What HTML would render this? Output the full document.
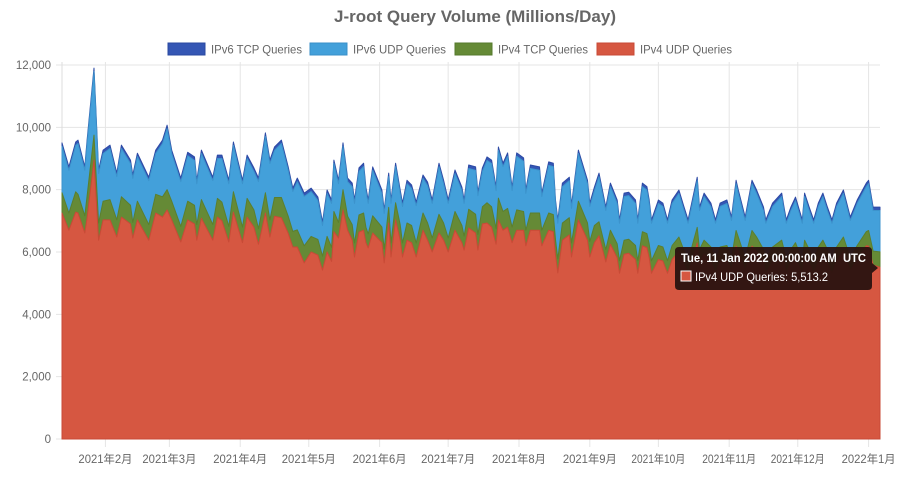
<!DOCTYPE html>
<html><head><meta charset="utf-8">
<style>
html,body{margin:0;padding:0;background:#fff;}
body{width:900px;height:473px;overflow:hidden;font-family:"Liberation Sans","Noto Sans CJK JP",sans-serif;}
svg text{font-family:"Liberation Sans","Noto Sans CJK JP",sans-serif;}
</style></head>
<body>
<svg id="chart" width="900" height="473" viewBox="0 0 900 473">
  <text x="475" y="22" text-anchor="middle" font-size="17" font-weight="bold" fill="#666" textLength="282" lengthAdjust="spacingAndGlyphs">J-root Query Volume (Millions/Day)</text>
  <g>
    <g>
      <rect x="168" y="43" width="37" height="12" fill="#3456b4" stroke="#2a48a0" stroke-width="1"/>
      <text x="211" y="53.5" font-size="12" fill="#666" textLength="91" lengthAdjust="spacingAndGlyphs">IPv6 TCP Queries</text>
    </g>
    <g>
      <rect x="310" y="43" width="37" height="12" fill="#43a0da" stroke="#3a8fc8" stroke-width="1"/>
      <text x="353" y="53.5" font-size="12" fill="#666" textLength="93" lengthAdjust="spacingAndGlyphs">IPv6 UDP Queries</text>
    </g>
    <g>
      <rect x="455" y="43" width="37" height="12" fill="#658a36" stroke="#557a2c" stroke-width="1"/>
      <text x="498" y="53.5" font-size="12" fill="#666" textLength="90" lengthAdjust="spacingAndGlyphs">IPv4 TCP Queries</text>
    </g>
    <g>
      <rect x="597" y="43" width="37" height="12" fill="#d65741" stroke="#c84a36" stroke-width="1"/>
      <text x="640" y="53.5" font-size="12" fill="#666" textLength="92" lengthAdjust="spacingAndGlyphs">IPv4 UDP Queries</text>
    </g>
  </g>
  <g id="grid"></g>
  <g id="areas"></g>
  <g id="axes"></g>
  <g>
    <path d="M679,247 H868 Q872,247 872,251 V263 L878,268 L872,273 V286 Q872,290 868,290 H679 Q675,290 675,286 V251 Q675,247 679,247 Z" fill="#2a1310" fill-opacity="0.95"/>
    <text x="681" y="262" font-size="12" font-weight="bold" fill="#fff" textLength="185" lengthAdjust="spacingAndGlyphs" xml:space="preserve">Tue, 11 Jan 2022 00:00:00 AM  UTC</text>
    <rect x="681" y="271" width="10" height="10" fill="#d65741" stroke="#fff" stroke-width="1"/>
    <text x="695" y="281" font-size="12" fill="#fff" textLength="133" lengthAdjust="spacingAndGlyphs">IPv4 UDP Queries: 5,513.2</text>
  </g>
</svg>
<script>
const startDate = Date.UTC(2021, 0, 13);
const dayOffsets = [0,3,6,7,10,11,14,16,18,21,24,26,30,31,33,38,41,44,46,48,52,55,58,59,61,66,68,70,73,75,79,81,84,86,89,91,93,96,99,101,103,106,109,112,114,116,118,119,121,123,125,127,128,130,132,133,134,136,140,141,143,144,146,148,149,151,153,155,158,160,162,165,167,169,172,175,176,178,181,182,184,186,188,190,191,193,195,197,199,202,203,205,209,210,213,215,216,217,219,222,223,226,230,231,233,235,238,240,243,244,246,248,251,252,254,256,257,258,261,263,265,267,270,272,274,278,279,281,284,286,288,291,293,295,296,299,302,304,307,308,311,315,316,317,319,321,324,325,327,329,331,333,335,337,339,342,345,348,352,353,355,358];
const ipv4Udp = [7250,6700,7280,7250,6610,7100,8950,6380,7030,7030,6480,7120,6900,6450,7030,6380,7250,7120,7350,7030,6320,7030,6900,6380,7080,6380,7120,7000,6320,7280,6300,7120,6800,6250,7250,6480,7150,7100,6600,6160,6160,5650,6000,5900,5420,6000,5700,6650,6450,7350,6700,6380,5840,6640,6700,6300,6130,6610,6300,5650,6930,5840,7030,6380,5840,6380,6300,5840,6700,6380,6000,6610,6380,6000,6700,6300,6060,6770,6610,6060,6900,6930,6800,6250,7030,6700,6800,6300,6700,6700,6200,6700,6700,6200,6700,6650,5900,5330,6380,6550,5840,7030,6380,5840,6300,6520,5680,6250,5810,5320,5930,5960,5760,5320,6200,6140,5810,5320,5760,5710,5320,5760,6030,5640,5320,6290,5680,5930,5710,5320,5710,5760,5410,6190,6030,5410,6190,6030,5680,5320,5710,5930,5680,5320,5680,5850,5320,5930,5680,5320,5710,5930,5680,5320,5710,6030,5410,5760,6200,6190,5580,5513];
const ipv4Tcp = [650,550,650,600,550,700,800,550,600,650,550,650,600,500,600,500,600,650,650,600,500,600,600,500,600,500,600,600,500,650,500,600,550,500,650,550,600,650,550,500,550,550,500,500,450,500,450,650,500,650,450,500,450,550,550,500,450,550,500,450,500,450,550,500,450,550,550,450,550,550,450,600,550,450,600,550,450,600,600,500,550,650,650,500,700,600,600,500,650,600,500,550,550,500,550,550,500,450,550,550,450,600,550,500,550,450,400,450,450,400,450,450,450,400,450,450,450,400,450,450,400,450,450,450,400,500,400,450,450,400,450,450,400,500,450,400,500,450,400,400,450,450,400,400,400,450,400,450,400,400,450,450,400,400,450,450,400,450,450,500,450,490];
const ipv6Udp = [1490,1370,1490,1630,1460,1680,2040,1590,1530,1640,1390,1550,1340,1410,1430,1410,1310,1710,1960,1530,1440,1460,1440,1310,1480,1410,1280,1400,1370,1490,1390,1280,1240,1510,1810,1810,1510,1730,1470,1280,1550,1580,1440,1250,980,1380,1410,1540,1240,1390,1110,1220,1270,1400,1490,1170,980,1460,1080,1140,990,1270,1160,1000,1170,1260,1190,1200,1110,1200,1110,1530,1260,1110,1220,1120,1050,1310,1410,1250,1140,1360,1390,1220,1530,1440,1670,1170,1720,1610,1180,1430,1370,1080,1530,1540,1160,1140,1170,1190,1110,1530,1260,1120,1120,1450,1250,1400,1300,1200,1400,1400,1350,1200,1450,1400,1300,1200,1350,1300,1200,1350,1400,1300,1200,1500,1250,1400,1300,1200,1300,1350,1200,1500,1400,1200,1500,1400,1250,1200,1300,1400,1250,1200,1250,1350,1200,1400,1250,1200,1300,1400,1250,1200,1300,1400,1200,1350,1450,1500,1300,1327];
const ipv6Tcp = [110,110,110,110,110,110,110,110,110,110,110,110,110,110,110,110,110,110,110,110,110,110,110,110,110,110,110,110,110,110,110,110,110,110,110,110,110,110,110,110,110,110,110,110,110,110,110,110,110,110,110,110,110,110,110,110,110,110,110,110,110,110,110,110,110,110,110,110,110,110,110,110,110,110,110,110,110,110,110,110,110,110,110,110,110,110,110,110,110,110,110,110,110,110,110,110,110,110,110,110,110,110,110,110,110,110,110,110,110,110,110,110,110,110,110,110,110,110,110,110,110,110,110,110,110,110,110,110,110,110,110,110,110,110,110,110,110,110,110,110,110,110,110,110,110,110,110,110,110,110,110,110,110,110,110,110,110,110,110,110,110,110];
const yTicks = [0,2000,4000,6000,8000,10000,12000];
const yTickLabels = ["0","2,000","4,000","6,000","8,000","10,000","12,000"];
const monthTicks = [[2021,1],[2021,2],[2021,3],[2021,4],[2021,5],[2021,6],[2021,7],[2021,8],[2021,9],[2021,10],[2021,11],[2022,0]];
const monthLabels = ["2021年2月","2021年3月","2021年4月","2021年5月","2021年6月","2021年7月","2021年8月","2021年9月","2021年10月","2021年11月","2021年12月","2022年1月"];

const NS = "http://www.w3.org/2000/svg";
const X0 = 62, X1 = 880, Y0 = 439, Y1 = 65, SPAN_DAYS = 358, YMAX = 12000;
function xScale(day){ return X0 + day * (X1 - X0) / SPAN_DAYS; }
function yScale(v){ return Y0 - v * (Y0 - Y1) / YMAX; }
function mk(tag, attrs, parent){ const e = document.createElementNS(NS, tag); for (const k in attrs) e.setAttribute(k, attrs[k]); parent.appendChild(e); return e; }

const grid = document.getElementById('grid');
const axes = document.getElementById('axes');
const areas = document.getElementById('areas');

yTicks.forEach((v, i) => {
  const gl = mk('line', {x1: X0 - 6, x2: X1, y1: yScale(v), y2: yScale(v), stroke: '#e5e5e5', 'stroke-width': 1}, grid);
  
  
  const t = mk('text', {x: 51, y: yScale(v) + 4, 'text-anchor': 'end', 'font-size': 11.5, fill: '#666'}, axes);
  t.textContent = yTickLabels[i];
  
  
});
monthTicks.forEach((m, i) => {
  const day = (Date.UTC(m[0], m[1], 1) - startDate) / 86400000;
  const x = xScale(day);
  const gl = mk('line', {x1: x, x2: x, y1: Y1 - 3, y2: Y0 + 8, stroke: '#e5e5e5', 'stroke-width': 1}, grid);
  
  
  const len = monthLabels[i].length > 8 ? 60 : 54;
  const t = mk('text', {x: x, y: 463, 'text-anchor': 'middle', 'font-size': 11.5, fill: '#666', textLength: len, lengthAdjust: 'spacingAndGlyphs'}, axes);
  t.textContent = monthLabels[i];
  
  
});
mk('line', {x1: X0, x2: X0, y1: Y1 - 3, y2: Y0, stroke: '#ddd', 'stroke-width': 1}, grid);

const series = [
  {name: 'ipv4-udp-area', vals: ipv4Udp, fill: '#d65741', line: '#c84a36'},
  {name: 'ipv4-tcp-area', vals: ipv4Tcp, fill: '#658a36', line: '#5b7f2e'},
  {name: 'ipv6-udp-area', vals: ipv6Udp, fill: '#43a0da', line: '#3c93cc'},
  {name: 'ipv6-tcp-area', vals: ipv6Tcp, fill: '#3456b4', line: '#2d4aa5'}
];
const cum = [];
let base = dayOffsets.map(() => 0);
series.forEach(s => {
  const top = base.map((b, i) => b + s.vals[i]);
  cum.push({s: s, bottom: base, top: top});
  base = top;
});
for (let k = cum.length - 1; k >= 0; k--) {
  const c = cum[k];
  let d = '';
  dayOffsets.forEach((day, i) => { d += (i ? 'L' : 'M') + xScale(day).toFixed(1) + ',' + yScale(c.top[i]).toFixed(1); });
  d += 'L' + xScale(dayOffsets[dayOffsets.length - 1]).toFixed(1) + ',' + Y0 + 'L' + X0 + ',' + Y0 + 'Z';
  const p = mk('path', {d: d, fill: c.s.fill, stroke: c.s.line, 'stroke-width': 1, 'stroke-linejoin': 'round'}, areas);
  
  
}
</script>
</body></html>
